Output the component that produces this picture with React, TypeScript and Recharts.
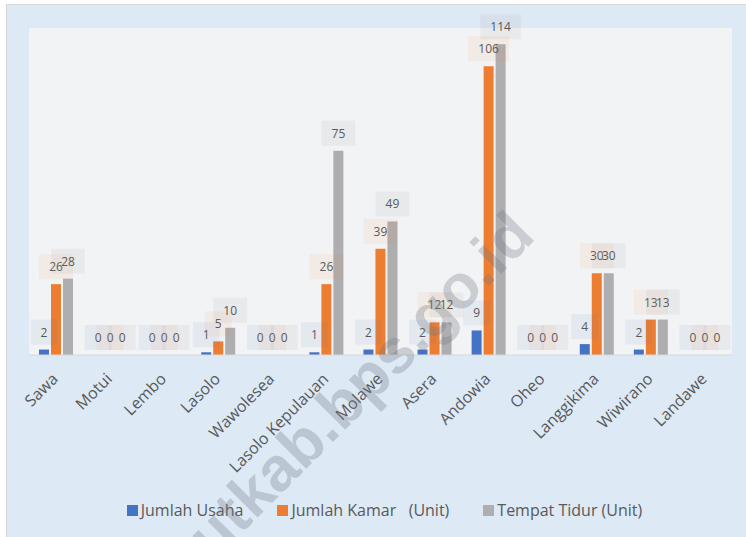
import { BarChart, Bar, XAxis, YAxis, CartesianGrid, Legend, LabelList } from 'recharts';

const kecamatan = [
  'Sawa', 'Motui', 'Lembo', 'Lasolo', 'Wawolesea', 'Lasolo Kepulauan', 'Molawe',
  'Asera', 'Andowia', 'Oheo', 'Langgikima', 'Wiwirano', 'Landawe',
];
const jumlahUsaha = [2, 0, 0, 1, 0, 1, 2, 2, 9, 0, 4, 2, 0];
const jumlahKamar = [26, 0, 0, 5, 0, 26, 39, 12, 106, 0, 30, 13, 0];
const tempatTidur = [28, 0, 0, 10, 0, 75, 49, 12, 114, 0, 30, 13, 0];

const data = kecamatan.map((name, i) => ({
  name,
  usaha: jumlahUsaha[i],
  kamar: jumlahKamar[i],
  tidur: tempatTidur[i],
}));

const series = [
  { key: 'usaha', name: 'Jumlah Usaha', color: '#4472c4', box: 'rgba(68,114,196,0.08)' },
  { key: 'kamar', name: 'Jumlah Kamar   (Unit)', color: '#ed7d31', box: 'rgba(237,125,49,0.08)' },
  { key: 'tidur', name: 'Tempat Tidur (Unit)', color: '#aeaeb0', box: 'rgba(165,165,165,0.12)' },
];

const FONT = '"Open Sans", "Noto Sans", sans-serif';
const TEXT = '#595959';

// label with a faint box behind it, like the excel data callouts
const boxLabel = (bg: string) => (props: any) => {
  const x = Number(props.x);
  const y = Number(props.y);
  const width = Number(props.width);
  const text = String(props.value);
  const w = 20 + 6.9 * text.length;
  const h = 25;
  const cx = x + width / 2;
  const bottom = y - 5;
  return (
    <g>
      <rect x={cx - w / 2} y={bottom - h} width={w} height={h} fill={bg} />
      <text x={cx} y={bottom - h / 2} textAnchor="middle" dominantBaseline="central"
        fontSize={12} fontFamily={FONT} fill={TEXT}>
        {text}
      </text>
    </g>
  );
};

const AngledTick = ({ x, y, payload }: any) => {
  const ax = x + 3;
  const ay = y + 25;
  return (
    <text x={ax} y={ay} transform={`rotate(-45 ${ax} ${ay})`} textAnchor="end"
      fontSize={16} fontFamily={FONT} fill={TEXT}>
      {payload.value}
    </text>
  );
};

const LegendContent = () => (
  <div style={{ display: 'flex', justifyContent: 'center', alignItems: 'center', gap: 34,
    fontFamily: FONT, fontSize: 16, lineHeight: '22px', color: TEXT }}>
    {series.map((s) => (
      <span key={s.key} style={{ display: 'flex', alignItems: 'center', whiteSpace: 'pre' }}>
        <span style={{ width: 11, height: 11, background: s.color, marginRight: 3, display: 'inline-block' }} />
        {s.name}
      </span>
    ))}
  </div>
);

export default function App() {
  return (
    <div style={{ position: 'absolute', left: 6, top: 4, width: 739, height: 532,
      background: '#dde9f5', borderTop: '1px solid #d6d6d6', borderLeft: '1px solid #d6d6d6', overflow: 'hidden' }}>
      <BarChart width={739} height={532} data={data}
        margin={{ top: 23, right: 14, bottom: 0, left: 22 }}
        barCategoryGap={10} barGap={2}>
        <CartesianGrid horizontal={false} vertical={false} fill="#f2f3f5" />
        <XAxis dataKey="name" interval={0} height={182} tickLine={false} tickSize={0} tickMargin={0}
          axisLine={{ stroke: '#d9d9d9' }} tick={<AngledTick />} />
        <YAxis hide domain={[0, 120]} />
        {series.map((s) => (
          <Bar key={s.key} dataKey={s.key} name={s.name} fill={s.color}
            minPointSize={0.01} isAnimationActive={false}>
            <LabelList dataKey={s.key} content={boxLabel(s.box)} />
          </Bar>
        ))}
        <Legend layout="horizontal" verticalAlign="middle" align="center"
          wrapperStyle={{ top: 494, left: 8, width: 739 }} content={<LegendContent />} />
      </BarChart>
      <svg width={739} height={532} style={{ position: 'absolute', left: 0, top: 0, pointerEvents: 'none' }}>
        <text x={530} y={233} transform="rotate(-45 530 233)" textAnchor="end"
          fontSize={62} fontWeight="bold" fontFamily='"Liberation Sans", Arial, sans-serif'
          fill="rgba(110,120,130,0.3)">
          konutkab.bps.go.id
        </text>
      </svg>
    </div>
  );
}
